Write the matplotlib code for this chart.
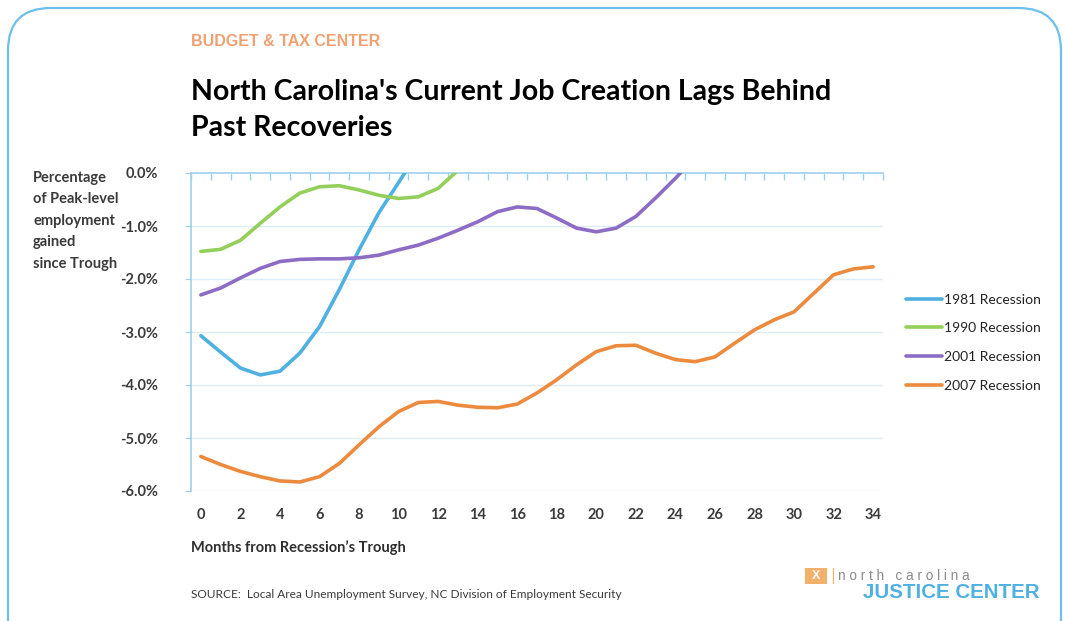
import matplotlib
matplotlib.use("Agg")
import matplotlib.pyplot as plt
from matplotlib.patches import FancyBboxPatch, Rectangle
import numpy as np

# months from trough
months = list(range(0, 35))

# percent of peak-level employment gained since trough
rec_1981 = [-3.07, -3.38, -3.68, -3.81, -3.74, -3.40, -2.90, -2.20, -1.45, -0.75, -0.18, 0.40]
rec_1990 = [-1.48, -1.44, -1.27, -0.95, -0.64, -0.38, -0.26, -0.24, -0.32, -0.42, -0.48, -0.45,
            -0.29, 0.05, 0.40]
rec_2001 = [-2.30, -2.17, -1.98, -1.80, -1.67, -1.63, -1.62, -1.62, -1.60, -1.55, -1.45, -1.36,
            -1.23, -1.08, -0.92, -0.73, -0.64, -0.67, -0.85, -1.04, -1.11, -1.04, -0.82, -0.47,
            -0.10, 0.30]
rec_2007 = [-5.35, -5.50, -5.63, -5.73, -5.81, -5.83, -5.73, -5.48, -5.13, -4.79, -4.50, -4.33,
            -4.31, -4.38, -4.42, -4.43, -4.36, -4.15, -3.90, -3.62, -3.37, -3.26, -3.25, -3.40,
            -3.52, -3.56, -3.47, -3.21, -2.96, -2.77, -2.62, -2.27, -1.92, -1.81, -1.77]

series_names = ["1981 Recession", "1990 Recession", "2001 Recession", "2007 Recession"]
series_vals = [rec_1981, rec_1990, rec_2001, rec_2007]
series_colors = ["#4fb0e2", "#93cf5a", "#8c6cc4", "#ec8a3e"]

y_ticks = [0, -1, -2, -3, -4, -5, -6]
x_ticks = list(range(0, 35, 2))

title = "North Carolina's Current Job Creation Lags Behind\nPast Recoveries"
ylabel = "Percentage\nof Peak-level\nemployment\ngained\nsince Trough"

W, H = 1065, 621
fig = plt.figure(figsize=(W / 100, H / 100), dpi=100)
fig.patch.set_facecolor("white")

# rounded frame around the slide
frame = FancyBboxPatch((8 / W, -40 / H), (1061 - 8) / W, (621 - 8 + 40) / H,
                       boxstyle="round,pad=0,rounding_size=0.04",
                       transform=fig.transFigure, fill=False,
                       edgecolor="#6cc0ec", linewidth=1.6, mutation_aspect=W / H)
fig.patches.append(frame)

ax = fig.add_axes([191 / W, 1 - 491 / H, (883 - 191) / W, (491 - 173) / H])

for name, vals, col in zip(series_names, series_vals, series_colors):
    ax.plot(months[:len(vals)], vals, color=col, lw=2.6, label=name,
            solid_capstyle="round", solid_joinstyle="round", zorder=3)

ax.set_xlim(-0.5, 34.5)
ax.set_ylim(-6, 0)

grid_col = "#dcedf7"
spine_col = "#9fd0ea"
for v in y_ticks[1:]:
    ax.axhline(v, color=grid_col, lw=1.0, zorder=1)

for s in ["bottom", "right"]:
    ax.spines[s].set_visible(False)
for s in ["top", "left"]:
    ax.spines[s].set_color(spine_col)
    ax.spines[s].set_linewidth(1.2)

tick_font = dict(family=["Lato", "DejaVu Sans"], weight="bold", size=10.5, color="#3a3a3a")

ax.set_yticks(y_ticks)
ax.set_yticklabels(["%.1f%%" % v for v in y_ticks], **tick_font)
ax.tick_params(axis="y", direction="out", length=4, color=spine_col, pad=20)

ax.set_xticks(x_ticks)
ax.set_xticklabels([str(v) for v in x_ticks], **tick_font)
ax.tick_params(axis="x", which="major", length=0, pad=12)
ax.set_xticks(np.arange(-0.5, 35, 1), minor=True)
ax.tick_params(axis="x", which="minor", bottom=False, top=True, direction="in",
               length=5, color=spine_col, width=1.0)

leg = ax.legend(loc="upper left", bbox_to_anchor=(1.015, 0.66), frameon=False,
                handlelength=2.6, handletextpad=0.15, labelspacing=1.2,
                prop=dict(family=["Lato", "DejaVu Sans"], size=10))
for t in leg.get_texts():
    t.set_color("#222222")

fig.text(191 / W, 1 - 42 / H, "BUDGET & TAX CENTER", color="#f2a072",
         family=["Liberation Sans", "DejaVu Sans"], weight="bold", size=11.5, va="center")
fig.text(191 / W, 1 - 79 / H, title, color="black", family=["Lato", "DejaVu Sans"],
         weight="bold", size=20.5, va="top", linespacing=1.5)
fig.text(33 / W, 1 - 171 / H, ylabel, color="#3a3a3a", family=["Lato", "DejaVu Sans"],
         weight="bold", size=10.5, va="top", linespacing=1.68)
fig.text(191 / W, 1 - 548 / H, "Months from Recession\u2019s Trough", color="#2e2e2e",
         family=["Lato", "DejaVu Sans"], weight="bold", size=10.5, va="center")
fig.text(191 / W, 1 - 595 / H,
         "SOURCE:  Local Area Unemployment Survey, NC Division of Employment Security",
         color="#3a3a3a", family=["Lato", "DejaVu Sans"], size=8.6, va="center")

# logo
fig.patches.append(Rectangle((805 / W, 1 - 584 / H), 22 / W, 16 / H, transform=fig.transFigure,
                             facecolor="#f2b06a", edgecolor="none"))
fig.text(816 / W, 1 - 576 / H, "X", color="white", weight="bold", size=9,
         ha="center", va="center", family=["Liberation Sans", "DejaVu Sans"])
fig.text(833 / W, 1 - 576 / H, "|", color="#f2b06a", size=11, va="center", ha="center")
fig.text(838 / W, 1 - 576 / H, "n o r t h   c a r o l i n a", color="#8a8a8a",
         family=["Liberation Sans", "DejaVu Sans"], size=9.8, va="center")
fig.text(1040 / W, 1 - 593 / H, "JUSTICE CENTER", color="#4fb0e2",
         family=["Liberation Sans", "DejaVu Sans"], weight="bold", size=14.8,
         va="center", ha="right")

fig.savefig("out.png", dpi=100)
